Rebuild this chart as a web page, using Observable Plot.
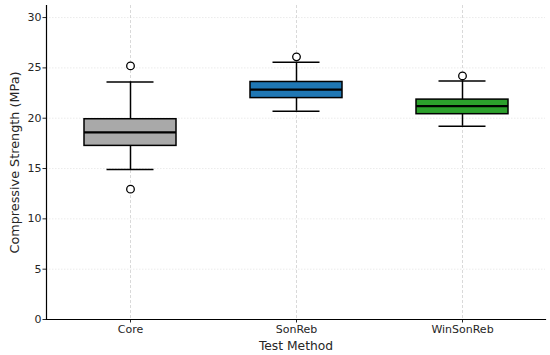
<!DOCTYPE html>
<html><head><meta charset="utf-8">
<script src="https://cdn.jsdelivr.net/npm/d3@7"></script>
<script src="https://cdn.jsdelivr.net/npm/@observablehq/plot@0.6"></script>
<style>body{margin:0;background:#fff}#chart{width:550px;height:355px}</style>
</head><body><div id="chart"></div>
<script>
const methods = ["Core", "SonReb", "WinSonReb"];
const colors = ["#a9a9a9", "#1f77b4", "#2ca02c"];
const lowerWhisker = [14.9, 20.7, 19.2];
const q1 = [17.25, 22.0, 20.4];
const median = [18.6, 22.85, 21.2];
const q3 = [19.9, 23.6, 21.85];
const upperWhisker = [23.6, 25.55, 23.7];
const outlierMethod = ["Core", "Core", "SonReb", "WinSonReb"];
const outlierValue = [25.2, 12.95, 26.1, 24.2];
const yTicks = [0, 5, 10, 15, 20, 25, 30];
const xTitle = "Test Method";
const yTitle = "Compressive Strength (MPa)";

const stats = methods.map((m, i) => ({method: m, lo: lowerWhisker[i], q1: q1[i], med: median[i], q3: q3[i], hi: upperWhisker[i], color: colors[i]}));
const outliers = outlierMethod.map((m, i) => ({method: m, value: outlierValue[i]}));

const chart = Plot.plot({
  width: 550, height: 355,
  marginLeft: 46, marginRight: 5, marginTop: 5, marginBottom: 36,
  style: {fontFamily: "DejaVu Sans", fontSize: "11px", color: "#262626", background: "#fff"},
  x: {domain: methods, paddingInner: 0.446, paddingOuter: 0.223, label: null},
  y: {domain: [0, 31.2], label: null},
  marks: [
    Plot.gridY(yTicks, {stroke: "#e6e6e6", strokeOpacity: 1, strokeDasharray: "1.5,1.5", strokeWidth: 0.8}),
    Plot.ruleX(methods, {x: d => d, stroke: "#cfcfcf", strokeDasharray: "3,2", strokeWidth: 0.8}),
    Plot.ruleX(stats, {x: "method", y1: "lo", y2: "q1", stroke: "black", strokeWidth: 1.5}),
    Plot.ruleX(stats, {x: "method", y1: "q3", y2: "hi", stroke: "black", strokeWidth: 1.5}),
    Plot.tickY(stats, {x: "method", y: "lo", stroke: "black", strokeWidth: 1.5, insetLeft: 22.5, insetRight: 22.5}),
    Plot.tickY(stats, {x: "method", y: "hi", stroke: "black", strokeWidth: 1.5, insetLeft: 22.5, insetRight: 22.5}),
    Plot.barY(stats, {x: "method", y1: "q1", y2: "q3", fill: "color", stroke: "black", strokeWidth: 1.5}),
    Plot.tickY(stats, {x: "method", y: "med", stroke: "black", strokeWidth: 2.2}),
    Plot.dot(outliers, {x: "method", y: "value", r: 3.8, stroke: "black", fill: "white", strokeWidth: 1.3}),
    Plot.axisY(yTicks, {tickSize: 3.5, tickPadding: 1.5, label: null, fontSize: 11}),
    Plot.axisX({tickSize: 3.5, tickPadding: 2, label: null, fontSize: 11}),
    Plot.text([yTitle], {frameAnchor: "left", rotate: -90, dx: -32, fontSize: 12.8, fill: "#262626", textAnchor: "middle", lineAnchor: "middle"}),
    Plot.text([xTitle], {frameAnchor: "bottom", dy: 27, fontSize: 12.3, fill: "#262626", textAnchor: "middle", lineAnchor: "middle"}),
    Plot.frame({anchor: "left", stroke: "black", strokeWidth: 1.2}),
    Plot.frame({anchor: "bottom", stroke: "black", strokeWidth: 1.2})
  ]
});
document.getElementById("chart").appendChild(chart);
</script></body></html>
